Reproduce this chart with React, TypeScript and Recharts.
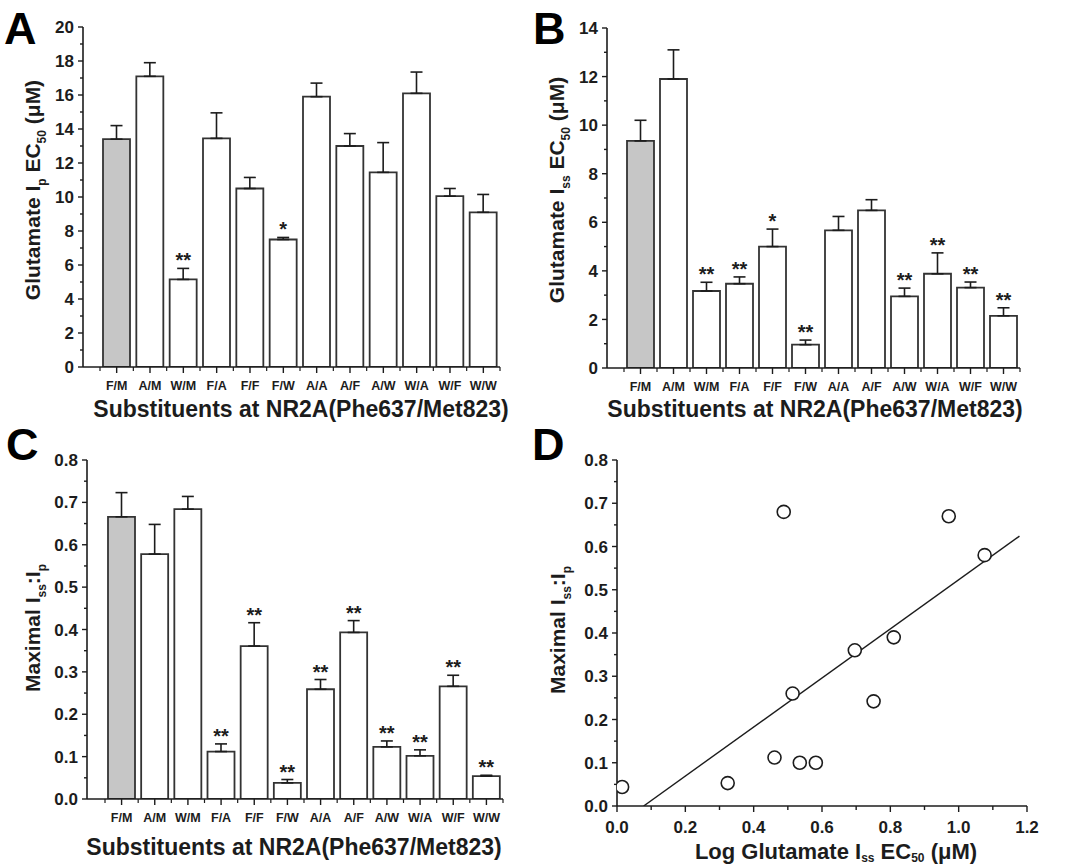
import React from 'react';
import {
  BarChart, Bar, Cell, ErrorBar, LabelList, XAxis, YAxis,
  ScatterChart, Scatter,
} from 'recharts';

const FONT = "'Liberation Sans', Arial, Helvetica, sans-serif";
const INK = '#1c1c1c';

// categories shared by panels A-C
const substituents = ['F/M', 'A/M', 'W/M', 'F/A', 'F/F', 'F/W', 'A/A', 'A/F', 'A/W', 'W/A', 'W/F', 'W/W'];

// panel A: glutamate Ip EC50 (uM)
const ipEC50 = [13.4, 17.1, 5.15, 13.45, 10.5, 7.5, 15.9, 13.0, 11.45, 16.1, 10.05, 9.1];
const ipEC50Err = [0.8, 0.8, 0.65, 1.5, 0.65, 0.12, 0.8, 0.73, 1.75, 1.25, 0.45, 1.05];
const ipSig = ['', '', '**', '', '', '*', '', '', '', '', '', ''];

// panel B: glutamate Iss EC50 (uM)
const issEC50 = [9.35, 11.9, 3.17, 3.47, 5.0, 0.96, 5.67, 6.49, 2.95, 3.88, 3.31, 2.15];
const issEC50Err = [0.85, 1.2, 0.36, 0.28, 0.72, 0.19, 0.57, 0.44, 0.34, 0.86, 0.23, 0.33];
const issSig = ['', '', '**', '**', '*', '**', '', '', '**', '**', '**', '**'];

// panel C: maximal Iss:Ip
const ratio = [0.666, 0.578, 0.684, 0.112, 0.361, 0.038, 0.259, 0.393, 0.123, 0.102, 0.266, 0.054];
const ratioErr = [0.057, 0.07, 0.03, 0.018, 0.055, 0.008, 0.023, 0.028, 0.014, 0.014, 0.026, 0.002];
const ratioSig = ['', '', '', '**', '**', '**', '**', '**', '**', '**', '**', '**'];

// panel D: scatter + linear fit
const logIssX = [0.015, 0.324, 0.461, 0.488, 0.514, 0.535, 0.582, 0.696, 0.751, 0.81, 0.971, 1.076];
const ratioY = [0.044, 0.053, 0.112, 0.68, 0.26, 0.10, 0.10, 0.36, 0.242, 0.39, 0.67, 0.58];
const fitX = [0.078, 1.178];
const fitY = [0, 0.624];

// tick lists (minor ticks included)
const ticksA = [0, 1, 2, 3, 4, 5, 6, 7, 8, 9, 10, 11, 12, 13, 14, 15, 16, 17, 18, 19, 20];
const ticksB = [0, 1, 2, 3, 4, 5, 6, 7, 8, 9, 10, 11, 12, 13, 14];
const ticksRatio = [0, 0.05, 0.1, 0.15, 0.2, 0.25, 0.3, 0.35, 0.4, 0.45, 0.5, 0.55, 0.6, 0.65, 0.7, 0.75, 0.8];
const ticksLog = [0, 0.1, 0.2, 0.3, 0.4, 0.5, 0.6, 0.7, 0.8, 0.9, 1.0, 1.1, 1.2];

const yTick = (isMajor: (v: number) => boolean, fmt: (v: number) => string) => (props: any) => {
  const { x, y, payload } = props;
  const v = payload.value;
  const major = isMajor(v);
  return (
    <g>
      <line x1={x - (major ? 5 : 3)} x2={x} y1={y} y2={y} stroke={INK} strokeWidth={1.4} />
      {major && (
        <text x={x - 9} y={y} dy="0.36em" textAnchor="end" fontFamily={FONT} fontSize={17} fontWeight="bold" fill={INK}>
          {fmt(v)}
        </text>
      )}
    </g>
  );
};

const catTick = (band: number, last: number) => (props: any) => {
  const { x, y, payload, index } = props;
  return (
    <g>
      <line x1={x} x2={x} y1={y} y2={y + 6} stroke={INK} strokeWidth={1.4} />
      <line x1={x - band / 2} x2={x - band / 2} y1={y} y2={y + 4} stroke={INK} strokeWidth={1.2} />
      {index === last && <line x1={x + band / 2} x2={x + band / 2} y1={y} y2={y + 4} stroke={INK} strokeWidth={1.2} />}
      <text x={x} y={y + 23} textAnchor="middle" fontFamily={FONT} fontSize={12.5} fontWeight="bold" fill={INK}>
        {payload.value}
      </text>
    </g>
  );
};

const sigLabel = (sig: string[], vals: number[], errs: number[]) => (props: any) => {
  const vb = props.viewBox || props;
  const x = vb.x ?? props.x;
  const y = vb.y ?? props.y;
  const w = vb.width ?? props.width;
  const h = vb.height ?? props.height;
  const i = props.index;
  const s = sig[i];
  if (!s) return null;
  const ppu = h / vals[i];
  const top = y - errs[i] * ppu;
  return (
    <text x={x + w / 2} y={top - 1} textAnchor="middle" fontFamily={FONT} fontSize={20} fontWeight="bold" fill={INK}>
      {s}
    </text>
  );
};

type BarPanelProps = {
  left: number; top: number; width: number; height: number;
  margin: { top: number; right: number; bottom: number; left: number };
  values: number[]; errors: number[]; sig: string[];
  yMax: number; yTicks: number[];
  isMajor: (v: number) => boolean; fmt: (v: number) => string;
  padLeft: number;
};

function BarPanel(p: BarPanelProps) {
  const data = substituents.map((name, i) => ({ name, value: p.values[i], err: [0, p.errors[i]] }));
  const plotW = p.width - p.margin.left - p.margin.right - 50;
  const band = (plotW - p.padLeft) / substituents.length;
  return (
    <div style={{ position: 'absolute', left: p.left, top: p.top }}>
      <BarChart width={p.width} height={p.height} data={data} margin={p.margin} barSize={27}>
        <XAxis
          dataKey="name" type="category" interval={0} height={30}
          padding={{ left: p.padLeft, right: 0 }}
          tickSize={0} tickMargin={0} tick={catTick(band, substituents.length - 1)}
          axisLine={{ stroke: INK, strokeWidth: 1.6 }}
        />
        <YAxis
          type="number" domain={[0, p.yMax]} ticks={p.yTicks} interval={0} width={50}
          tickSize={0} tickMargin={0} tick={yTick(p.isMajor, p.fmt)} allowDataOverflow
          axisLine={{ stroke: INK, strokeWidth: 1.6 }}
        />
        <Bar dataKey="value" stroke="#333" strokeWidth={1.8} isAnimationActive={false}>
          {data.map((d, i) => (
            <Cell key={d.name} fill={i === 0 ? '#c6c6c6' : '#ffffff'} />
          ))}
          <ErrorBar dataKey="err" width={6} stroke={INK} strokeWidth={1.6} direction="y" />
          <LabelList dataKey="value" content={sigLabel(p.sig, p.values, p.errors)} />
        </Bar>
      </BarChart>
    </div>
  );
}

function ScatterPanel() {
  const points = logIssX.map((x, i) => ({ x, y: ratioY[i] }));
  const fit = fitX.map((x, i) => ({ x, y: fitY[i] }));
  const xTick = (props: any) => {
    const { x, y, payload } = props;
    const v = payload.value;
    const major = Math.round(v * 10) % 2 === 0;
    return (
      <g>
        <line x1={x} x2={x} y1={y} y2={y + (major ? 6 : 4)} stroke={INK} strokeWidth={1.4} />
        {major && (
          <text x={x} y={y + 27} textAnchor="middle" fontFamily={FONT} fontSize={17} fontWeight="bold" fill={INK}>
            {v.toFixed(1)}
          </text>
        )}
      </g>
    );
  };
  return (
    <div style={{ position: 'absolute', left: 520, top: 420 }}>
      <ScatterChart width={546} height={448} margin={{ top: 40, right: 39, bottom: 32, left: 47 }}>
        <XAxis
          dataKey="x" type="number" domain={[0, 1.2]} ticks={ticksLog} interval={0} height={30}
          tickSize={0} tickMargin={0} tick={xTick} allowDataOverflow
          axisLine={{ stroke: INK, strokeWidth: 1.6 }}
        />
        <YAxis
          dataKey="y" type="number" domain={[0, 0.8]} ticks={ticksRatio} interval={0} width={50}
          tickSize={0} tickMargin={0} allowDataOverflow
          tick={yTick((v) => Math.round(v * 100) % 10 === 0, (v) => v.toFixed(1))}
          axisLine={{ stroke: INK, strokeWidth: 1.6 }}
        />
        <Scatter
          data={fit} line={{ stroke: INK, strokeWidth: 1.4 }} lineType="joint"
          shape={() => <g />} isAnimationActive={false}
        />
        <Scatter
          data={points} isAnimationActive={false}
          shape={(s: any) => <circle cx={s.cx} cy={s.cy} r={6.5} fill="#fff" stroke={INK} strokeWidth={1.6} />}
        />
      </ScatterChart>
    </div>
  );
}

// text with subscripts: parts of [text, isSub]
function SubText({ x, y, parts, rotate, size = 22, shiftRatio = 0.3 }: { x: number; y: number; parts: [string, boolean][]; rotate?: boolean; size?: number; shiftRatio?: number }) {
  const subSize = Math.round(size * 0.55);
  const shift = Math.round(size * shiftRatio);
  const spans: React.ReactNode[] = [];
  let down = false;
  parts.forEach(([t, sub], i) => {
    let dy = 0;
    if (sub && !down) { dy = shift; down = true; }
    else if (!sub && down) { dy = -shift; down = false; }
    spans.push(
      <tspan key={i} dy={dy} fontSize={sub ? subSize : size}>{t}</tspan>
    );
  });
  return (
    <text
      x={x} y={y} textAnchor="middle" fontFamily={FONT} fontWeight="bold" fill={INK} fontSize={size}
      transform={rotate ? `rotate(-90 ${x} ${y})` : undefined}
    >
      {spans}
    </text>
  );
}

const xTitle = 'Substituents at NR2A(Phe637/Met823)';

function Overlay() {
  const letter = (x: number, y: number, t: string) => (
    <text x={x} y={y} fontFamily={FONT} fontWeight="bold" fontSize={45} fill="#000">{t}</text>
  );
  return (
    <svg width={1066} height={868} style={{ position: 'absolute', left: 0, top: 0, pointerEvents: 'none' }}>
      {letter(4, 44, 'A')}
      {letter(533, 44, 'B')}
      {letter(6, 460, 'C')}
      {letter(532, 460, 'D')}

      <SubText x={40} y={190} rotate size={21} parts={[['Glutamate I', false], ['p', true], [' EC', false], ['50', true], [' (\u03bcM)', false]]} />
      <SubText x={564} y={190} rotate size={21} parts={[['Glutamate I', false], ['ss', true], [' EC', false], ['50', true], [' (\u03bcM)', false]]} />
      <SubText x={40} y={628} rotate size={21} parts={[['Maximal I', false], ['ss', true], [':I', false], ['p', true]]} />
      <SubText x={565} y={630} rotate size={21} parts={[['Maximal I', false], ['ss', true], [':I', false], ['p', true]]} />

      <SubText x={301} y={417} size={23} parts={[[xTitle, false]]} />
      <SubText x={815} y={417} size={23} parts={[[xTitle, false]]} />
      <SubText x={294} y={855} size={23} parts={[[xTitle, false]]} />
      <SubText x={836} y={859} size={22} shiftRatio={0.15} parts={[['Log Glutamate I', false], ['ss', true], [' EC', false], ['50', true], [' (\u03bcM)', false]]} />
    </svg>
  );
}

export default function App() {
  const evenMajor = (v: number) => v % 2 === 0;
  const intFmt = (v: number) => String(v);
  const ratioMajor = (v: number) => Math.round(v * 100) % 10 === 0;
  const ratioFmt = (v: number) => v.toFixed(1);
  return (
    <div style={{ position: 'absolute', left: 0, top: 0, width: 1066, height: 868, background: '#fff', overflow: 'hidden' }}>
      <BarPanel
        left={0} top={0} width={530} height={425}
        margin={{ top: 27, right: 30, bottom: 28, left: 33 }}
        values={ipEC50} errors={ipEC50Err} sig={ipSig}
        yMax={20} yTicks={ticksA} isMajor={evenMajor} fmt={intFmt} padLeft={17}
      />
      <BarPanel
        left={530} top={0} width={536} height={425}
        margin={{ top: 28, right: 46, bottom: 27, left: 27 }}
        values={issEC50} errors={issEC50Err} sig={issSig}
        yMax={14} yTicks={ticksB} isMajor={evenMajor} fmt={intFmt} padLeft={17}
      />
      <BarPanel
        left={0} top={420} width={530} height={448}
        margin={{ top: 40, right: 27, bottom: 39, left: 37 }}
        values={ratio} errors={ratioErr} sig={ratioSig}
        yMax={0.8} yTicks={ticksRatio} isMajor={ratioMajor} fmt={ratioFmt} padLeft={18}
      />
      <ScatterPanel />
      <Overlay />
    </div>
  );
}
